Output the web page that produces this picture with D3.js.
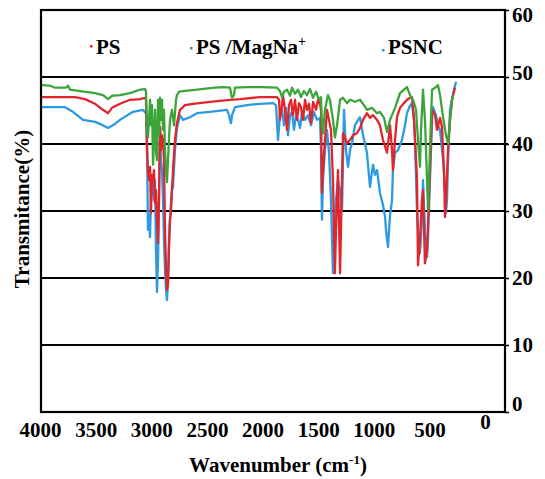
<!DOCTYPE html>
<html lang="en">
<head>
<meta charset="utf-8">
<title>FTIR spectra</title>
<script src="https://d3js.org/d3.v7.min.js"></script>
<style>
  body { margin: 0; background: #fff; }
  text { font-family: "Liberation Serif", "Times New Roman", serif; font-weight: bold; fill: #000; }
</style>
</head>
<body>
<script>
// [wavenumber (cm-1), transmittance (%)]
const psData = [[4000,47.0],[3836,47.0],[3707,47.0],[3621,46.7],[3534,46.0],[3466,45.1],[3422,44.6],[3388,45.4],[3319,46.0],[3233,46.6],[3147,46.7],[3103,46.9],[3095,46.6],[3086,39.1],[3078,36.1],[3069,34.6],[3060,36.6],[3052,29.7],[3043,35.4],[3034,34.6],[3026,36.1],[3017,31.2],[3009,33.1],[3000,28.7],[2991,25.2],[2983,31.6],[2974,42.5],[2966,39.1],[2957,41.3],[2948,40.6],[2940,37.6],[2931,27.2],[2922,21.2],[2914,18.2],[2905,19.0],[2897,24.2],[2888,28.7],[2879,30.1],[2871,33.1],[2862,36.1],[2845,40.6],[2828,43.1],[2802,45.1],[2776,45.5],[2759,45.8],[2690,46.0],[2543,46.3],[2371,46.6],[2284,46.7],[2112,47.0],[1966,47.0],[1948,46.6],[1940,43.6],[1922,45.8],[1914,47.3],[1897,45.1],[1879,42.1],[1862,45.8],[1845,46.6],[1828,44.3],[1810,46.6],[1793,43.6],[1776,46.1],[1759,45.5],[1741,43.6],[1724,46.6],[1707,45.1],[1690,46.0],[1672,43.1],[1655,46.3],[1629,45.1],[1612,46.6],[1595,46.0],[1586,45.1],[1578,32.7],[1569,36.1],[1552,40.6],[1535,45.1],[1517,43.6],[1500,42.1],[1483,34.6],[1466,20.7],[1457,27.2],[1448,31.6],[1440,36.1],[1422,20.7],[1414,27.2],[1397,41.6],[1379,40.9],[1362,40.1],[1336,40.6],[1310,41.3],[1276,41.6],[1250,42.4],[1224,43.6],[1190,44.6],[1164,43.9],[1138,44.3],[1103,43.6],[1078,42.8],[1052,40.6],[1017,38.7],[1000,41.3],[991,42.8],[974,39.1],[966,36.1],[948,40.6],[931,44.0],[905,45.4],[871,46.1],[845,46.6],[819,46.9],[802,47.0],[784,43.6],[767,37.6],[759,35.1],[750,21.9],[733,25.7],[716,31.6],[707,33.1],[690,22.2],[672,24.2],[664,27.6],[647,36.1],[629,45.1],[603,44.3],[586,42.1],[560,43.9],[543,42.5],[526,36.1],[517,29.1],[509,31.6],[491,39.1],[474,43.6],[457,46.6],[431,48.4]];

const magData = [[4000,48.8],[3923,48.7],[3879,48.4],[3785,48.4],[3767,48.7],[3750,48.1],[3664,47.9],[3534,47.6],[3466,47.3],[3422,46.7],[3388,47.2],[3319,47.3],[3233,47.6],[3147,48.1],[3103,48.2],[3095,47.8],[3086,42.1],[3078,41.0],[3069,43.6],[3060,46.6],[3052,42.8],[3043,45.8],[3034,36.9],[3026,40.6],[3017,45.1],[3009,39.1],[3000,37.6],[2991,46.6],[2983,41.3],[2974,46.9],[2966,43.6],[2957,46.6],[2948,42.1],[2940,45.1],[2931,39.1],[2922,36.1],[2914,34.3],[2905,37.6],[2897,40.6],[2888,43.6],[2871,45.1],[2853,42.8],[2836,46.6],[2828,47.3],[2810,47.8],[2776,47.9],[2655,48.1],[2500,48.4],[2431,48.5],[2371,48.4],[2353,46.9],[2336,47.3],[2328,48.4],[2224,48.5],[2095,48.5],[1966,48.4],[1940,47.9],[1922,47.0],[1905,47.8],[1879,48.1],[1853,47.2],[1836,48.4],[1810,47.5],[1784,48.1],[1759,47.0],[1733,47.9],[1707,47.3],[1681,48.2],[1655,46.9],[1629,47.8],[1603,46.6],[1586,47.0],[1578,42.5],[1569,41.6],[1552,45.1],[1526,47.3],[1509,46.6],[1483,43.6],[1466,41.0],[1448,42.8],[1422,46.6],[1397,46.9],[1362,46.1],[1336,46.6],[1293,46.3],[1250,46.6],[1216,45.8],[1190,45.1],[1147,45.4],[1103,44.6],[1078,44.8],[1043,43.9],[1017,41.8],[991,43.6],[948,45.4],[905,47.6],[871,48.1],[845,48.5],[819,47.3],[793,46.6],[767,45.1],[750,40.6],[733,36.6],[724,42.1],[707,48.1],[690,43.6],[672,34.6],[664,30.1],[647,39.1],[629,48.1],[603,48.4],[578,48.8],[560,47.3],[534,44.0],[509,41.3],[491,40.1],[474,43.6],[457,46.6],[448,47.3]];

const psncData = [[4000,45.5],[3793,45.5],[3733,44.9],[3681,44.2],[3638,43.6],[3534,43.3],[3491,43.0],[3422,42.4],[3362,43.0],[3319,43.6],[3207,44.8],[3121,45.1],[3095,44.6],[3086,40.1],[3078,27.2],[3069,29.4],[3060,26.1],[3052,31.6],[3043,34.6],[3034,33.9],[3026,31.6],[3017,34.6],[3009,24.2],[3000,17.9],[2991,22.7],[2983,31.6],[2974,42.5],[2966,37.6],[2957,36.1],[2948,31.6],[2940,25.7],[2931,21.2],[2922,18.2],[2914,16.7],[2905,19.7],[2897,25.7],[2888,28.7],[2879,31.6],[2871,33.1],[2862,33.6],[2845,39.1],[2828,42.4],[2802,44.3],[2776,43.6],[2716,44.0],[2655,44.6],[2543,44.8],[2397,45.1],[2379,44.3],[2371,43.6],[2362,43.1],[2353,44.3],[2328,45.5],[2224,45.8],[2112,46.0],[2000,46.1],[1974,45.8],[1957,40.6],[1940,44.3],[1922,45.1],[1905,42.8],[1888,45.4],[1871,41.3],[1853,44.3],[1836,44.8],[1819,42.1],[1802,44.3],[1784,43.6],[1767,42.4],[1750,44.8],[1724,43.6],[1698,44.3],[1672,42.8],[1647,44.8],[1621,43.6],[1595,43.9],[1586,39.1],[1578,28.7],[1569,34.6],[1552,39.1],[1535,42.1],[1517,38.7],[1500,31.6],[1483,20.7],[1474,25.7],[1457,31.6],[1440,34.6],[1422,33.1],[1405,30.1],[1388,45.1],[1371,39.1],[1353,36.6],[1336,39.1],[1319,40.1],[1293,42.8],[1267,43.6],[1250,44.0],[1224,41.3],[1190,38.7],[1164,33.6],[1138,36.9],[1121,35.4],[1103,36.1],[1078,32.7],[1052,30.9],[1034,29.1],[1026,27.2],[1009,24.6],[991,29.4],[974,31.6],[966,36.1],[948,38.7],[922,39.1],[888,40.6],[862,42.8],[845,44.6],[819,45.7],[802,46.1],[784,43.6],[776,40.6],[759,30.1],[750,27.2],[733,23.7],[716,28.7],[707,34.6],[690,27.2],[672,23.1],[664,25.7],[647,34.6],[629,43.6],[621,45.5],[595,44.3],[578,42.8],[560,42.1],[534,37.6],[517,33.1],[509,29.7],[500,31.6],[491,37.6],[474,45.1],[457,46.6],[440,48.1],[422,49.3]];

const seriesNames = ["PS", "PS /MagNa", "PSNC"];
const seriesColors = ["#e2252b", "#3ca53a", "#2c9ae2"];
const xTickValues = [4000, 3500, 3000, 2500, 2000, 1500, 1000, 500, 0];
const yTickValues = [0, 10, 20, 30, 40, 50, 60];
const gridValues = [10, 20, 30, 40, 50];

const w = 545;
const h = 479;
const plotLeft = 41, plotRight = 505, plotTop = 10, plotBottom = 412;

const svg = d3.select("body")
    .append("svg")
    .attr("width", w)
    .attr("height", h);

const x = d3.scaleLinear().domain([4000, 0]).range([plotLeft, plotRight]);
// the tick labels of the original sit a little left of the data scale
const xLabel = d3.scaleLinear().domain([4000, 0]).range([40, 485]);
const y = d3.scaleLinear().domain([0, 60]).range([plotBottom, plotTop]);

// gridlines
svg.selectAll("line.grid")
    .data(gridValues)
    .enter()
    .append("line")
    .attr("class", "grid")
    .attr("x1", plotLeft)
    .attr("x2", d => d === 40 ? plotRight + 3 : plotRight)
    .attr("y1", d => y(d))
    .attr("y2", d => y(d))
    .attr("stroke", "#000")
    .attr("stroke-width", 2.2);

// spectra (blue under red under green)
const line = d3.line()
    .x(d => x(d[0]))
    .y(d => y(d[1]));

const drawOrder = [[psncData, 2], [psData, 0], [magData, 1]];
svg.selectAll("path.spectrum")
    .data(drawOrder)
    .enter()
    .append("path")
    .attr("class", "spectrum")
    .attr("d", d => line(d[0]))
    .attr("fill", "none")
    .attr("stroke", d => seriesColors[d[1]])
    .attr("stroke-width", 2.3)
    .attr("stroke-linejoin", "round");

// frame
svg.append("rect")
    .attr("x", plotLeft)
    .attr("y", plotTop)
    .attr("width", plotRight - plotLeft)
    .attr("height", plotBottom - plotTop)
    .attr("fill", "none")
    .attr("stroke", "#000")
    .attr("stroke-width", 2.2);

// right axis
const yAxis = svg.append("g")
    .attr("transform", "translate(" + plotRight + ",0)")
    .call(d3.axisRight(y).tickValues(yTickValues).tickSize(4).tickPadding(3).tickFormat(d3.format("d")));
yAxis.select(".domain").remove();
yAxis.selectAll("line").attr("stroke", "#000").attr("stroke-width", 1.5);
yAxis.selectAll("text")
    .attr("font-size", 21)
    .attr("font-family", null)
    .attr("dy", d => d === 0 ? "-0.05em" : d === 50 ? "0.1em" : d === 60 ? "0.55em" : "0.32em");

// bottom labels
const xAxis = svg.append("g")
    .attr("transform", "translate(0," + plotBottom + ")")
    .call(d3.axisBottom(xLabel).tickValues(xTickValues).tickSize(0).tickPadding(10).tickFormat(d3.format("d")));
xAxis.select(".domain").remove();
xAxis.selectAll("text")
    .attr("font-size", 21)
    .attr("font-family", null)
    .attr("dy", d => d === 0 ? "0.35em" : "0.71em");

// axis titles
const xTitle = svg.append("text")
    .attr("x", 278)
    .attr("y", 472)
    .attr("text-anchor", "middle")
    .attr("font-size", 21)
    .text("Wavenumber (cm");
xTitle.append("tspan").attr("font-size", 13).attr("dy", -8).text("-1");
xTitle.append("tspan").attr("dy", 8).text(")");

svg.append("text")
    .attr("transform", "translate(29,209) rotate(-90)")
    .attr("text-anchor", "middle")
    .attr("font-size", 21)
    .text("Transmitance(%)");

// legend
const legendX = [96, 196, 388];
const legend = svg.selectAll("g.legend")
    .data(seriesNames)
    .enter()
    .append("g")
    .attr("class", "legend")
    .attr("transform", (d, i) => "translate(" + legendX[i] + ",54)");

legend.append("rect")
    .attr("x", -6)
    .attr("y", (d, i) => -9 + i * 2)
    .attr("width", 2.5)
    .attr("height", 2.5)
    .attr("fill", (d, i) => seriesColors[i]);

const legendText = legend.append("text")
    .attr("font-size", 21)
    .text(d => d);
legendText.filter((d, i) => i === 1)
    .append("tspan")
    .attr("font-size", 14)
    .attr("dy", -8)
    .text("+");
</script>
</body>
</html>
